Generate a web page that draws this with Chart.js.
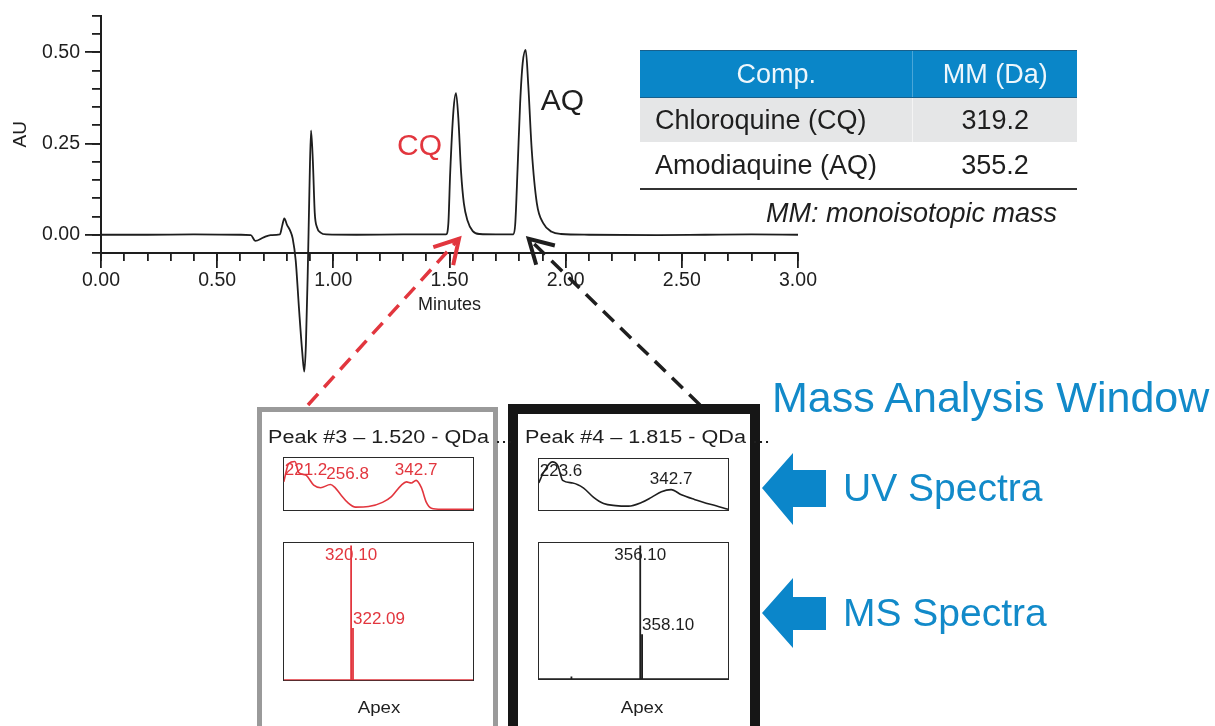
<!DOCTYPE html>
<html>
<head>
<meta charset="utf-8">
<script src="https://cdn.jsdelivr.net/npm/chart.js@4.4.1/dist/chart.umd.min.js"></script>
<style>
  body { margin: 0; width: 1215px; height: 726px; overflow: hidden; background: #fff; position: relative;
         font-family: "Liberation Sans", Arial, sans-serif; color: #1e1e1e; }
  #main { position: absolute; left: 0; top: 0; }
  #tbl { position: absolute; left: 640px; top: 50px; width: 437px; border-collapse: collapse; font-size: 27px; }
  #tbl th { background: #0a86c8; color: #eef7fc; font-weight: normal; height: 46px; padding: 0;
            border-top: 1px solid #18608c; border-bottom: 1px solid #18608c; }
  #tbl th + th { border-left: 1px solid #4aa6d8; }
  #tbl td { padding: 0; text-align: center; }
  #tbl td.name { text-align: left; padding-left: 15px; }
  #tbl tr.r0 td { background: #e5e6e7; height: 44px; }
  #tbl tr.r0 td + td { border-left: 1px solid #f4f4f4; }
  #tbl tr.r1 td { height: 46px; border-bottom: 2px solid #333; }
  .note { position: absolute; right: 158px; top: 197px; font-size: 27px; line-height: 32px; font-style: italic; }
  .panel { position: absolute; box-sizing: border-box; background: #fff; }
  .title { position: absolute; font-size: 18px; line-height: 22px; white-space: nowrap; transform: scaleX(1.2); transform-origin: left center; }
  .box { position: absolute; box-sizing: border-box; border: 1.5px solid #2a2a2a; }
  .spec { position: absolute; }
  .apex { position: absolute; width: 80px; text-align: center; font-size: 17px; line-height: 20px; transform: scaleX(1.1); }
  .blue { position: absolute; color: #128ac9; white-space: nowrap; }
  svg { position: absolute; left: 0; top: 0; }
</style>
</head>
<body>
<canvas id="main" width="822" height="420"></canvas>

<table id="tbl"></table>
<div class="note">MM: monoisotopic mass</div>

<div class="panel" style="left:257px;top:407px;width:241px;height:340px;border:5px solid #9a9a9a;"></div>
<div class="panel" style="left:508px;top:404px;width:252px;height:340px;border:10px solid #161616;"></div>

<div class="title" style="left:268px;top:426px;">Peak #3 – 1.520 - QDa ...</div>
<div class="title" style="left:525px;top:426px;">Peak #4 – 1.815 - QDa ...</div>

<div class="box" style="left:283px;top:457px;width:191px;height:54px;"></div>
<canvas class="spec" id="uvCQ" style="left:283px;top:457px;" width="191" height="54"></canvas>
<div class="box" style="left:283px;top:542px;width:191px;height:139px;"></div>
<canvas class="spec" id="msCQ" style="left:283px;top:542px;" width="191" height="139"></canvas>

<div class="box" style="left:538px;top:458px;width:191px;height:53px;"></div>
<canvas class="spec" id="uvAQ" style="left:538px;top:458px;" width="191" height="53"></canvas>
<div class="box" style="left:538px;top:542px;width:191px;height:138px;"></div>
<canvas class="spec" id="msAQ" style="left:538px;top:542px;" width="191" height="138"></canvas>

<div class="apex" style="left:339px;top:698px;">Apex</div>
<div class="apex" style="left:602px;top:698px;">Apex</div>

<svg width="1215" height="726">
  <polygon fill="#0b86ca" points="762,488 793,453 793,470 826,470 826,507 793,507 793,525"/>
  <polygon fill="#0b86ca" points="762,613 793,578 793,597 826,597 826,630 793,630 793,648"/>
</svg>
<div class="blue" style="left:772px;top:372px;font-size:43px;line-height:50px;">Mass Analysis Window</div>
<div class="blue" style="left:843px;top:465px;font-size:39px;line-height:46px;">UV Spectra</div>
<div class="blue" style="left:843px;top:590px;font-size:39px;line-height:46px;">MS Spectra</div>

<script>
// Chromatogram (UV trace)
const rtMinutes = [0.00, 0.20, 0.40, 0.60, 0.645, 0.664, 0.70, 0.73, 0.77, 0.78, 0.789, 0.80, 0.815, 0.825,
  0.838, 0.852, 0.866, 0.875, 0.882, 0.890, 0.897, 0.904, 0.912, 0.920, 0.930, 0.945, 0.97, 1.10, 1.30,
  1.485, 1.495, 1.503, 1.517, 1.528, 1.538, 1.550, 1.562, 1.577, 1.600, 1.63, 1.70,
  1.775, 1.783, 1.793, 1.804, 1.815, 1.828, 1.839, 1.854, 1.876, 1.904, 1.940, 1.98, 2.10, 2.40, 2.60, 2.80, 3.00]
const absorbanceAU = [0.000, 0.000, 0.001, 0.000, -0.001, -0.017, -0.007, -0.001, 0.001, 0.025, 0.045, 0.028, 0.010, -0.010,
  -0.07, -0.20, -0.32, -0.375, -0.30, -0.10, 0.12, 0.286, 0.20, 0.06, 0.020, 0.006, 0.001, 0.000, 0.001,
  0.001, 0.03, 0.17, 0.34, 0.388, 0.32, 0.17, 0.085, 0.040, 0.010, 0.002, 0.001,
  0.001, 0.03, 0.18, 0.36, 0.47, 0.506, 0.41, 0.232, 0.086, 0.031, 0.008, 0.002, 0.000, -0.001, 0.000, 0.001, 0.000]
const xTickValues = [0, 0.5, 1, 1.5, 2, 2.5, 3]
const yTickValues = [0, 0.25, 0.5]
const peakNames = ["CQ", "AQ"]
const peakTimes = [1.528, 1.828]

// Table
const tableHeader = ["Comp.", "MM (Da)"]
const compounds = ["Chloroquine (CQ)", "Amodiaquine (AQ)"]
const monoMasses = [319.2, 355.2]

// UV spectra (nm, relative absorbance)
const uvNmCQ = [210, 215, 221.2, 225, 232, 240, 247, 256.8, 261, 267, 274, 282, 295, 309, 318, 328, 333, 338, 342.7, 348, 353, 358, 368, 400]
const uvAbsCQ = [0.54, 0.89, 0.93, 0.72, 0.67, 0.48, 0.43, 0.49, 0.44, 0.30, 0.15, 0.06, 0.07, 0.15, 0.26, 0.48, 0.54, 0.52, 0.57, 0.43, 0.15, 0.04, 0.02, 0.02]
const uvPeaksCQ = [221.2, 256.8, 342.7]
const uvNmAQ = [210, 215, 223.6, 229, 234, 244, 255, 265, 275, 287, 300, 313, 323, 333, 342.7, 353, 366, 383, 400]
const uvAbsAQ = [0.53, 0.74, 0.94, 0.87, 0.58, 0.53, 0.43, 0.25, 0.13, 0.09, 0.08, 0.15, 0.25, 0.36, 0.40, 0.30, 0.21, 0.11, 0.02]
const uvPeaksAQ = [223.6, 342.7]

// MS spectra (m/z, relative intensity)
const msMzCQ = [320.10, 322.09]
const msIntCQ = [0.98, 0.38]
const msLabelsCQ = [320.10, 322.09]
const msMzAQ = [283.5, 356.10, 358.10]
const msIntAQ = [0.02, 0.98, 0.33]
const msLabelsAQ = [356.10, 358.10]

const FONT = "'Liberation Sans', Arial, sans-serif"
const INK = "#1e1e1e"
const RED = "#e2363e"
Chart.defaults.font.family = FONT
Chart.defaults.color = INK

// tabela
const tbl = document.getElementById("tbl")
tbl.innerHTML = "<tr>" + tableHeader.map((h, i) => `<th style="width:${i ? 164 : 273}px">${h}</th>`).join("") + "</tr>" +
  compounds.map((c, i) => `<tr class="r${i}"><td class="name">${c}</td><td>${monoMasses[i].toFixed(1)}</td></tr>`).join("")

// Labels CQ / AQ and dashed arrows to the panels
const arrowTails = [[308, 405], [700, 405]]
const peakColors = [RED, INK]
const chromaMarks = {
  id: "chromaMarks",
  afterDraw(chart) {
    const { ctx, scales: { x, y } } = chart
    ctx.save()
    ctx.font = "30px " + FONT
    ctx.textBaseline = "middle"
    peakNames.forEach((name, i) => {
      const px = x.getPixelForValue(peakTimes[i])
      const py = y.getPixelForValue(absorbanceAU[rtMinutes.indexOf(peakTimes[i])])
      ctx.fillStyle = peakColors[i]
      if (i === 0) {
        ctx.textAlign = "right"
        ctx.fillText(name, px - 14, py + 54)
      } else {
        ctx.textAlign = "left"
        ctx.fillText(name, px + 15, py + 52)
      }
    })
    peakTimes.forEach((t, i) => {
      const tx = x.getPixelForValue(t) + 3
      const ty = y.getPixelForValue(0) + 4
      const [sx, sy] = arrowTails[i]
      ctx.strokeStyle = peakColors[i]
      ctx.lineWidth = 3.5
      ctx.setLineDash([15, 9])
      ctx.beginPath()
      ctx.moveTo(sx, sy)
      ctx.lineTo(tx, ty)
      ctx.stroke()
      ctx.setLineDash([])
      ctx.lineWidth = 4
      const back = Math.atan2(sy - ty, sx - tx)
      ctx.beginPath()
      ctx.moveTo(tx + 27 * Math.cos(back - 0.52), ty + 27 * Math.sin(back - 0.52))
      ctx.lineTo(tx, ty)
      ctx.lineTo(tx + 27 * Math.cos(back + 0.52), ty + 27 * Math.sin(back + 0.52))
      ctx.stroke()
    })
    ctx.restore()
  },
}

const tickFont = { size: 19.5, family: FONT }
new Chart(document.getElementById("main"), {
  type: "line",
  data: {
    datasets: [{
      data: rtMinutes.map((t, i) => ({ x: t, y: absorbanceAU[i] })),
      borderColor: INK,
      borderWidth: 1.8,
      pointRadius: 0,
      cubicInterpolationMode: "monotone",
      clip: false,
    }],
  },
  options: {
    responsive: false,
    animation: false,
    events: [],
    layout: { padding: { top: 15.7, right: 24, bottom: 104.2, left: 0 } },
    plugins: { legend: { display: false }, tooltip: { enabled: false } },
    scales: {
      x: {
        type: "linear", axis: "x", position: "bottom", min: 0, max: 3, weight: 1,
        afterBuildTicks: (a) => { a.ticks = xTickValues.map((v) => ({ value: v })) },
        afterFit: (a) => { a.height = 62.8; a.paddingLeft = 0; a.paddingRight = 0 },
        grid: { drawOnChartArea: false, tickLength: 15, color: INK, lineWidth: 1.8 },
        border: { display: true, color: INK, width: 2 },
        ticks: { autoSkip: false, maxRotation: 0, padding: 1, color: INK, font: tickFont, callback: (v) => v.toFixed(2) },
        title: { display: true, text: "Minutes", color: INK, font: { size: 18, family: FONT }, padding: 0 },
      },
      xMinor: {
        type: "linear", axis: "x", position: "bottom", min: 0, max: 3, weight: 0,
        afterFit: (a) => { a.height = 0; a.paddingLeft = 0; a.paddingRight = 0 },
        grid: { drawOnChartArea: false, tickLength: 8, color: INK, lineWidth: 1.8 },
        border: { display: false },
        ticks: { display: false, stepSize: 0.1 },
      },
      y: {
        type: "linear", axis: "y", position: "left", min: -0.05, max: 0.6, weight: 1,
        afterBuildTicks: (a) => { a.ticks = yTickValues.map((v) => ({ value: v })) },
        afterFit: (a) => { a.width = 101; a.paddingTop = 0; a.paddingBottom = 0 },
        grid: { drawOnChartArea: false, tickLength: 16, color: INK, lineWidth: 1.8 },
        border: { display: true, color: INK, width: 2 },
        ticks: { autoSkip: false, padding: 5, color: INK, font: tickFont, callback: (v) => v.toFixed(2) },
        title: { display: true, text: "AU", color: INK, font: { size: 19, family: FONT }, padding: { top: 9, bottom: 0 } },
      },
      yMinor: {
        type: "linear", axis: "y", position: "left", min: -0.05, max: 0.6, weight: 0,
        afterFit: (a) => { a.width = 0; a.paddingTop = 0; a.paddingBottom = 0 },
        grid: { drawOnChartArea: false, tickLength: 9, color: INK, lineWidth: 1.8 },
        border: { display: false },
        ticks: { display: false, stepSize: 0.05 },
      },
    },
  },
  plugins: [chromaMarks],
})

// Peak labels inside the small spectra
function peakLabels(xs, ys, peaks, digits, color, mode) {
  return {
    id: "peakLabels",
    afterDatasetsDraw(chart) {
      const { ctx, chartArea: a, scales: { x, y } } = chart
      ctx.save()
      ctx.font = "17px " + FONT
      ctx.fillStyle = color
      ctx.textBaseline = "middle"
      ctx.textAlign = "left"
      let prevRight = -Infinity
      peaks.forEach((p, i) => {
        const text = p.toFixed(digits)
        const w = ctx.measureText(text).width
        let k = 0
        xs.forEach((v, j) => { if (Math.abs(v - p) < Math.abs(xs[k] - p)) k = j })
        const px = x.getPixelForValue(p)
        const py = y.getPixelForValue(ys[k])
        let left, cy
        if (mode === "uv" || i === 0) {
          left = Math.max(px - w / 2, a.left + 1, prevRight - 1)
          cy = Math.max(py - 10, a.top + 13)
        } else {
          left = px
          cy = py - 9
        }
        ctx.fillText(text, left, cy)
        prevRight = left + w
      })
      ctx.restore()
    },
  }
}

function hiddenScales(xMin, xMax) {
  return {
    x: { type: "linear", min: xMin, max: xMax, display: false },
    y: { type: "linear", min: 0, max: 1, display: false },
  }
}

function uvChart(id, nm, abs, peaks, color) {
  new Chart(document.getElementById(id), {
    type: "line",
    data: { datasets: [{ data: nm.map((v, i) => ({ x: v, y: abs[i] })), borderColor: color, borderWidth: 1.6, pointRadius: 0, cubicInterpolationMode: "monotone" }] },
    options: {
      responsive: false, animation: false, events: [],
      layout: { padding: 0.75 },
      plugins: { legend: { display: false }, tooltip: { enabled: false } },
      scales: hiddenScales(210, 400),
    },
    plugins: [peakLabels(nm, abs, peaks, 1, color, "uv")],
  })
}

function msChart(id, mz, inten, labels, color) {
  // sticks on a baseline
  const pts = [{ x: 249, y: 0 }]
  mz.forEach((m, i) => { pts.push({ x: m, y: 0 }, { x: m, y: inten[i] }, { x: m, y: 0 }) })
  pts.push({ x: 449, y: 0 })
  new Chart(document.getElementById(id), {
    type: "line",
    data: { datasets: [{ data: pts, borderColor: color, borderWidth: 1.8, pointRadius: 0, tension: 0 }] },
    options: {
      responsive: false, animation: false, events: [],
      layout: { padding: 0.75 },
      plugins: { legend: { display: false }, tooltip: { enabled: false } },
      scales: hiddenScales(249, 449),
    },
    plugins: [peakLabels(mz, inten, labels, 2, color, "ms")],
  })
}

uvChart("uvCQ", uvNmCQ, uvAbsCQ, uvPeaksCQ, RED)
uvChart("uvAQ", uvNmAQ, uvAbsAQ, uvPeaksAQ, INK)
msChart("msCQ", msMzCQ, msIntCQ, msLabelsCQ, RED)
msChart("msAQ", msMzAQ, msIntAQ, msLabelsAQ, INK)
</script>
</body>
</html>
